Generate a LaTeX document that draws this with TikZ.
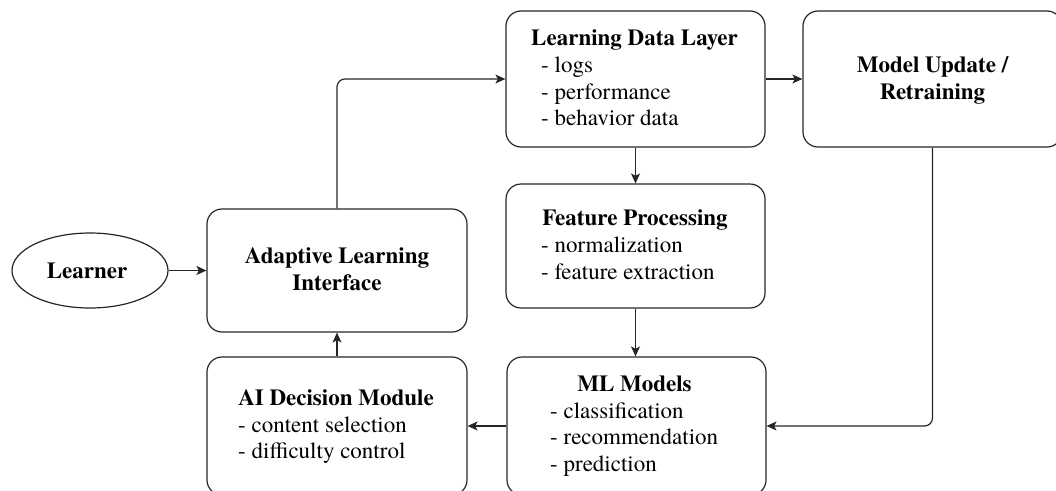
\documentclass[tikz,border=0pt]{standalone}
\usepackage{fontspec}
\setmainfont{texgyretermes}[Extension=.otf, UprightFont=*-regular, BoldFont=*-bold, ItalicFont=*-italic, BoldItalicFont=*-bolditalic]
\usetikzlibrary{arrows.meta,shapes.geometric}
\begin{document}
\begin{tikzpicture}[x=1pt,y=-1pt,
  box/.style={draw=black!85, line width=1.2pt, rounded corners=15pt, rectangle, inner sep=0pt},
  oval/.style={draw=black!85, line width=1.2pt, ellipse, inner sep=0pt},
  ttl/.style={font=\fontsize{23}{26.5}\selectfont\bfseries, inner sep=0pt, anchor=base},
  itm/.style={font=\fontsize{23}{26.5}\selectfont, inner sep=0pt, anchor=base west},
  conn/.style={draw=black!85, line width=1.2pt, -{Stealth[length=10pt,width=9pt,inset=2.5pt]}, rounded corners=8pt}
]
\useasboundingbox (0,0) rectangle (1056,490);
\clip (0,0) rectangle (1056,490);

% boxes
\node[oval, minimum width=156pt, minimum height=75pt] (learner) at (90,270.5) {};
\node[box, minimum width=260pt, minimum height=123pt] (ali) at (337,270.5) {};
\node[box, minimum width=259pt, minimum height=136pt] (ldl) at (635.5,79) {};
\node[box, minimum width=259pt, minimum height=136pt] (mu) at (932.5,79) {};
\node[box, minimum width=259pt, minimum height=124pt] (fp) at (635.5,246) {};
\node[box, minimum width=259pt, minimum height=138pt] (ml) at (636.5,426) {};
\node[box, minimum width=260pt, minimum height=138pt] (ai) at (337,426) {};

% texts
\node[ttl] (learnerT) at (87,278) {Learner};

\node[ttl] (aliT1) at (337,263.5) {Adaptive Learning};
\node[ttl] (aliT2) at (337,290.5) {Interface};

\node[ttl] (ldlT) at (634.5,45) {Learning Data Layer};
\node[itm] (ldl1) at (541,72.5) {- logs};
\node[itm] (ldl2) at (541,99) {- performance};
\node[itm] (ldl3) at (541,125.5) {- behavior data};

\node[ttl] (muT1) at (932.5,72) {Model Update /};
\node[ttl] (muT2) at (932.5,99) {Retraining};

\node[ttl] (fpT) at (635,225) {Feature Processing};
\node[itm] (fp1) at (541,252.5) {- normalization};
\node[itm] (fp2) at (541,279) {- feature extraction};

\node[ttl] (mlT) at (634.5,391.5) {ML Models};
\node[itm] (ml1) at (550,418) {- classification};
\node[itm] (ml2) at (550,444.8) {- recommendation};
\node[itm] (ml3) at (550,471.5) {- prediction};

\node[ttl] (aiT) at (336,405.5) {AI Decision Module};
\node[itm] (ai1) at (238,432) {- content selection};
\node[itm] (ai2) at (238,458.5) {- difficulty control};

% connectors
\draw[conn] (learner.east) -- (ali.west |- learner.east);
\draw[conn] (ali.north) |- (ldl.west);
\draw[conn] (ldl.east) -- (mu.west);
\draw[conn] (ldl.south) -- (fp.north);
\draw[conn] (fp.south) -- (fp.south |- ml.north);
\draw[conn] (mu.south) |- (ml.east);
\draw[conn] (ml.west) -- (ai.east);
\draw[conn] (ai.north) -- (ali.south);
\end{tikzpicture}
\end{document}
